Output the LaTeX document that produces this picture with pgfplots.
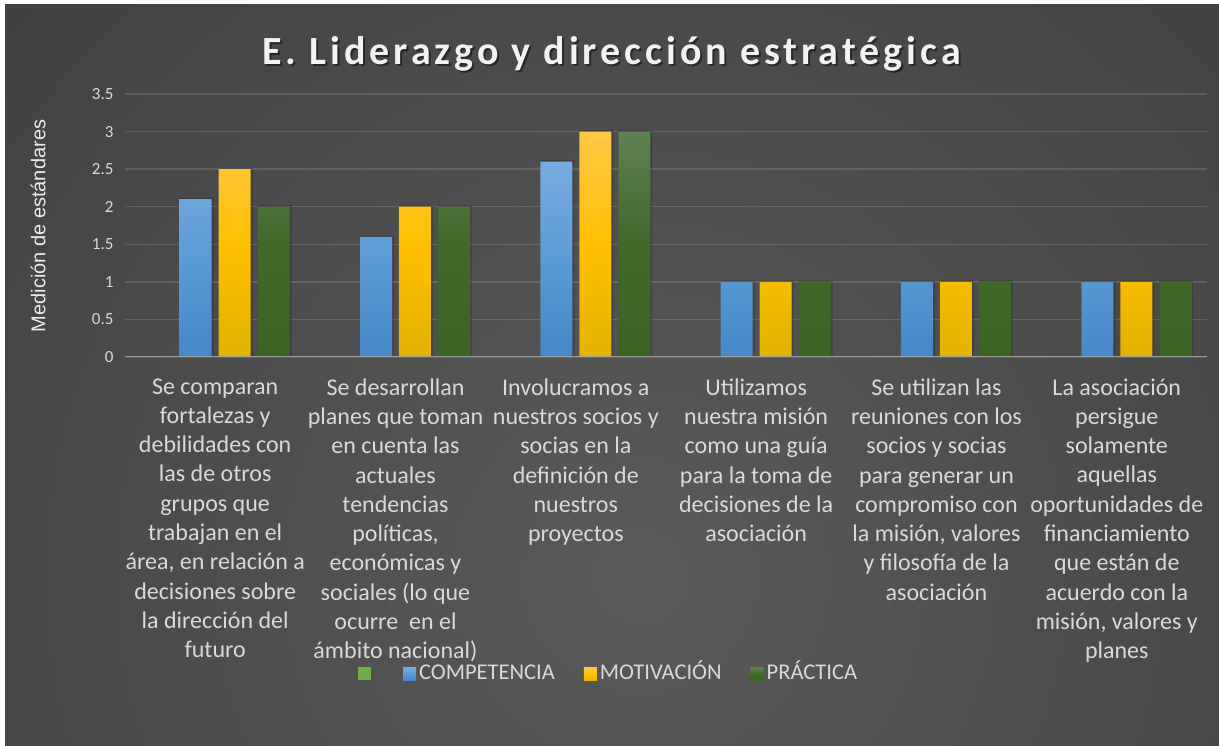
\documentclass[border=0pt]{standalone}
\usepackage{pgfplots}
\pgfplotsset{compat=1.18}
\usepackage{fontspec}
\setmainfont{Carlito}
\newfontfamily\titlefont[LetterSpace=10]{Carlito}
\newfontfamily\arialfont{Liberation Sans}
\definecolor{bgin}{HTML}{5A5A5A}
\definecolor{bgout}{HTML}{262626}
\definecolor{lbl}{HTML}{D9D9D9}
\definecolor{blueT}{HTML}{78ABDF}
\definecolor{blueM}{HTML}{5B9BD5}
\definecolor{blueB}{HTML}{4687C8}
\definecolor{yelT}{HTML}{FFC847}
\definecolor{yelM}{HTML}{FFC000}
\definecolor{yelB}{HTML}{E2B300}
\definecolor{grnT}{HTML}{608152}
\definecolor{grnM}{HTML}{41692A}
\definecolor{grnB}{HTML}{3B6322}
\definecolor{lgreen}{HTML}{70AD47}
\begin{document}
\begin{tikzpicture}
\fill[white] (0,0) rectangle (1219bp,746bp);
\begin{scope}
\clip (5bp,0) rectangle (1219bp,741bp);
\shade[inner color=bgin, outer color=bgout] (640bp,170bp) circle (1760bp);
\end{scope}
\node[text=black, opacity=0.45] at (613.5bp,690.5bp) {\titlefont\bfseries\fontsize{40bp}{48bp}\selectfont E. Liderazgo y dirección estratégica};
\node[text=white!95!black] at (611.5bp,692bp) {\titlefont\bfseries\fontsize{40bp}{48bp}\selectfont E. Liderazgo y dirección estratégica};
\node[rotate=90, text=white!92!black] at (38bp,520bp) {\arialfont\fontsize{20bp}{24bp}\selectfont Medición de estándares};
\begin{axis}[
  at={(125bp,389bp)}, anchor=south west,
  width=1082bp, height=263bp, scale only axis,
  xmin=-0.5, xmax=5.5, ymin=0, ymax=3.5,
  ytick={0,0.5,1,1.5,2,2.5,3,3.5},
  xtick={0,1,2,3,4,5},
  xticklabels={
    {Se comparan\\fortalezas y\\debilidades con\\las de otros\\grupos que\\trabajan en el\\área, en relación a\\decisiones sobre\\la dirección del\\futuro},
    {Se desarrollan\\planes que toman\\en cuenta las\\actuales\\tendencias\\políticas,\\económicas y\\sociales (lo que\\ocurre\ \ en el\\ámbito nacional)},
    {Involucramos a\\nuestros socios y\\socias en la\\definición de\\nuestros\\proyectos},
    {Utilizamos\\nuestra misión\\como una guía\\para la toma de\\decisiones de la\\asociación},
    {Se utilizan las\\reuniones con los\\socios y socias\\para generar un\\compromiso con\\la misión, valores\\y filosofía de la\\asociación},
    {La asociación\\persigue\\solamente\\aquellas\\oportunidades de\\financiamiento\\que están de\\acuerdo con la\\misión, valores y\\planes}},
  xticklabel style={font=\fontsize{24bp}{29.3bp}\selectfont, text=lbl, align=center, anchor=north, yshift=-18bp},
  yticklabel style={font=\fontsize{17bp}{20bp}\selectfont, text=lbl, xshift=-8bp},
  /pgf/number format/assume math mode=true,
  major tick length=0pt,
  axis line style={draw=none},
  ymajorgrids, grid style={white, opacity=0.13, line width=1.5bp},
  sq legend/.style={legend image code/.code={\fill[##1, draw=none] (0bp,-6.5bp) rectangle (13bp,6.5bp);}},
  legend style={at={(0.447,-1.205)}, anchor=center, draw=none, fill=none,
    font=\fontsize{22.5bp}{27bp}\selectfont, text=lbl, legend columns=-1,
    nodes={text height=16bp, text depth=5bp},
    /tikz/every even column/.append style={column sep=27bp},
    /tikz/every odd column/.append style={column sep=1bp}},
]
\addlegendimage{sq legend, fill=lgreen}
\addlegendentry{\mbox{}}
% shadows
\addplot[ybar, bar width=0.19, bar shift=-0.102, fill=black, opacity=0.15, draw=none, forget plot] coordinates {(0,2.12)(1,1.62)(2,2.62)(3,1.02)(4,1.02)(5,1.02)};
\addplot[ybar, bar width=0.19, bar shift=0.114, fill=black, opacity=0.15, draw=none, forget plot] coordinates {(0,2.52)(1,2.02)(2,3.02)(3,1.02)(4,1.02)(5,1.02)};
\addplot[ybar, bar width=0.19, bar shift=0.330, fill=black, opacity=0.15, draw=none, forget plot] coordinates {(0,2.02)(1,2.02)(2,3.02)(3,1.02)(4,1.02)(5,1.02)};
% bars
\addplot[ybar, bar width=0.1775, bar shift=-0.108, draw=none, top color=blueT, bottom color=blueB, middle color=blueM, sq legend] coordinates {(0,2.1)(1,1.6)(2,2.6)(3,1)(4,1)(5,1)};
\addlegendentry{COMPETENCIA}
\addplot[ybar, bar width=0.1775, bar shift=0.108, draw=none, top color=yelT, bottom color=yelB, middle color=yelM, sq legend] coordinates {(0,2.5)(1,2)(2,3)(3,1)(4,1)(5,1)};
\addlegendentry{MOTIVACIÓN}
\addplot[ybar, bar width=0.1775, bar shift=0.3245, draw=none, top color=grnT, bottom color=grnB, middle color=grnM, sq legend] coordinates {(0,2)(1,2)(2,3)(3,1)(4,1)(5,1)};
\addlegendentry{PRÁCTICA}
\draw[white!65!black, opacity=0.85, line width=2.2bp] (axis cs:-0.5,0) -- (axis cs:5.5,0);
\end{axis}
\end{tikzpicture}
\end{document}
